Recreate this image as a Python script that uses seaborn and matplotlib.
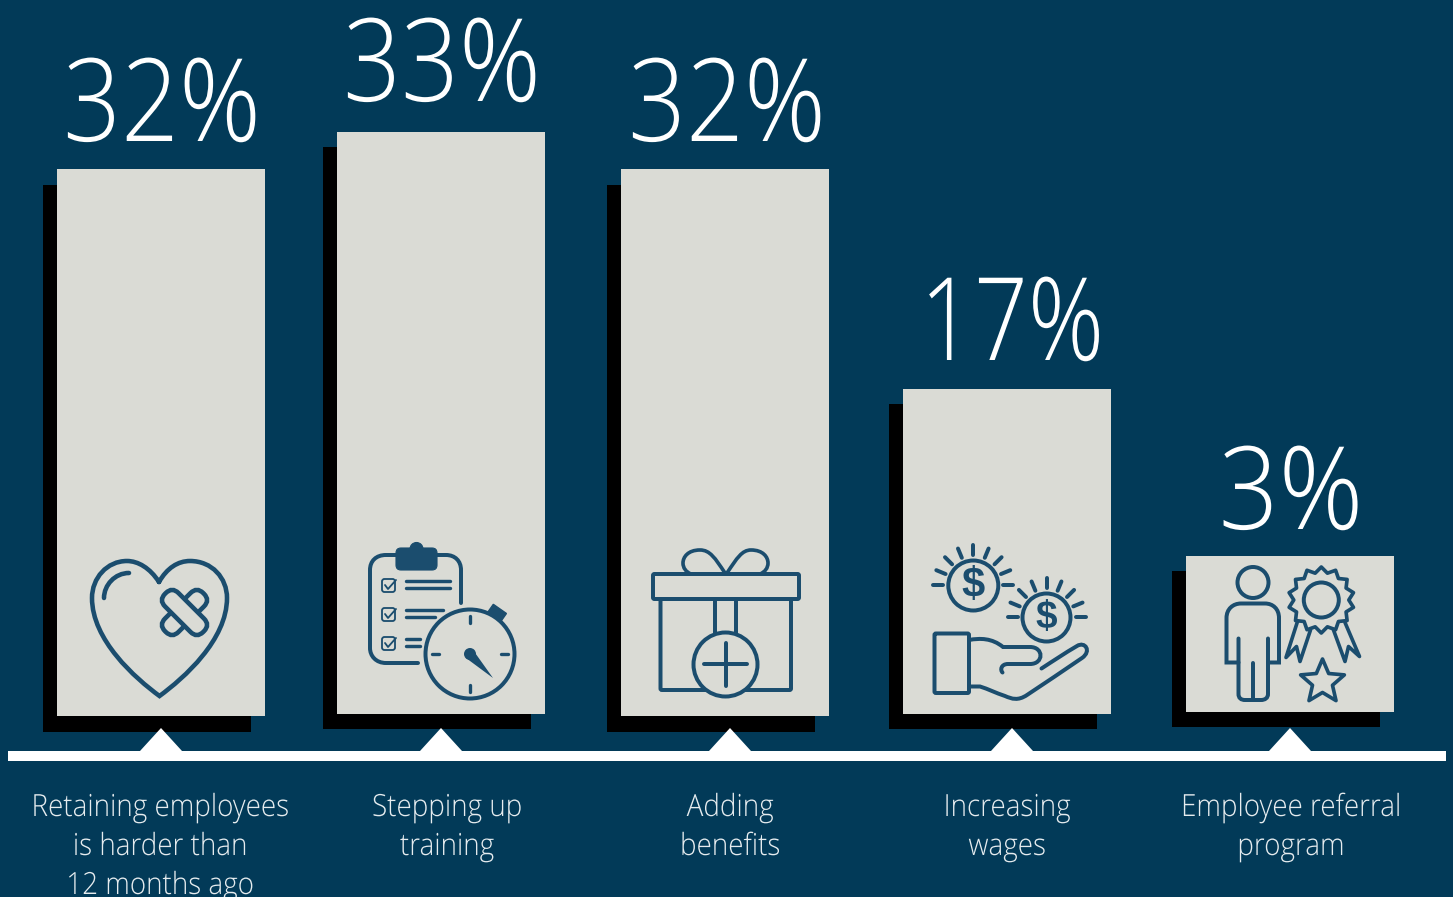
import matplotlib
matplotlib.use('Agg')
import matplotlib.pyplot as plt
import matplotlib.patheffects as pe
import numpy as np
import seaborn as sns
from matplotlib.path import Path
from matplotlib.patches import Circle, FancyBboxPatch, PathPatch, Polygon, Rectangle
from matplotlib.transforms import Affine2D

categories = ['Retaining employees\nis harder than\n12 months ago', 'Stepping up\ntraining',
              'Adding\nbenefits', 'Increasing\nwages', 'Employee referral\nprogram']
pct_values = [32, 33, 32, 17, 3]
bar_heights = [547, 582, 547, 325, 156]

# Layout, in image pixels
bar_centers = [161, 441, 725, 1007, 1290]
bar_bottoms = [716, 714, 716, 714, 712]
shadow_dy = [16, 15, 16, 15, 15]
pointer_x = [161, 441, 730, 1012, 1290]
pct_x = [162, 442, 727, 1012, 1291]
pct_gap = [27, 30, 27, 28, 26]
pct_squeeze = [0.88, 0.88, 0.88, 0.82, 0.91]
text_x = [160, 447, 730, 1007, 1291]

BG = '#023A58'
BAR = '#DADBD5'
ICON = '#1B4D6E'
LW = 0.82  # px to points for the icon strokes, a bit heavier than 0.72

sns.set_theme(style='white')
plt.rcParams['font.family'] = ['Open Sans', 'DejaVu Sans']

fig = plt.figure(figsize=(14.53, 8.97), dpi=100, facecolor=BG)
ax = fig.add_axes([0, 0, 1, 1])


class Squeeze(pe.AbstractPathEffect):
    # Open Sans runs wider than the font in the picture, so narrow the glyphs around the text centre
    def __init__(self, cx, sx):
        super().__init__()
        self.cx = cx
        self.sx = sx

    def draw_path(self, renderer, gc, tpath, affine, rgbFace=None):
        squeeze = Affine2D().translate(-self.cx, 0).scale(self.sx, 1).translate(self.cx, 0)
        renderer.draw_path(gc, tpath, affine + squeeze, rgbFace)


def line(pts, lw=3.0, **kw):
    xs, ys = zip(*pts)
    ax.plot(xs, ys, color=ICON, lw=lw * LW, solid_capstyle='round', solid_joinstyle='round', zorder=5, **kw)


def curve(verts, lw=3.0, fill='none'):
    # first vertex is a move, the rest come in threes of cubic bezier
    codes = [Path.MOVETO] + [Path.CURVE4] * (len(verts) - 1)
    ax.add_patch(PathPatch(Path(verts, codes), fc=fill, ec=ICON, lw=lw * LW, capstyle='round', zorder=5))


def ring(x, y, r, lw=3.0, fill='none', z=5):
    ax.add_patch(Circle((x, y), r, fc=fill, ec=ICON, lw=lw * LW, zorder=z))


def box(x0, y0, x1, y1, lw=3.0, fill='none', rad=1.5):
    ax.add_patch(FancyBboxPatch((x0, y0), x1 - x0, y1 - y0, boxstyle=f'round,pad=0,rounding_size={rad}',
                                fc=fill, ec=ICON, lw=lw * LW, zorder=5))


def draw_heart():
    curve([(159, 582), (150, 568), (138, 561), (127, 561), (107, 561), (92, 578), (92, 598),
           (92, 640), (135, 678), (159.5, 696), (184, 678), (227, 640), (227, 598),
           (227, 578), (212, 561), (190, 561), (178, 561), (167, 568), (159, 582)], lw=4)
    curve([(104, 598), (104, 585), (115, 573), (129, 573)], lw=4)
    for angle in (-45, 45):
        ax.add_patch(FancyBboxPatch((157.5, 603), 54, 19, boxstyle='round,pad=0,rounding_size=9', fc=BAR, ec=ICON,
                                    lw=4 * LW, zorder=5,
                                    transform=Affine2D().rotate_deg_around(184.5, 612.5, angle) + ax.transData))


def draw_clipboard():
    curve([(418, 663), (402, 663), (394, 663), (386, 663), (376, 663), (370, 656), (370, 648),
           (370, 620), (370, 600), (370, 570), (370, 561), (376, 555), (386, 555),
           (410, 555), (430, 555), (446, 555), (455, 555), (461, 561), (461, 570),
           (461, 580), (461, 592), (461, 603)], lw=3.5)
    box(396, 548, 437, 570, lw=1, fill=ICON, rad=5)
    ring(416.5, 549, 6.5, lw=1, fill=ICON)
    rows = [(579, 450, 450), (608, 443, 435), (637, 420, 420)]
    for top, x1, x2 in rows:
        box(382, top, 395, top + 13, lw=1.6, rad=2.5)
        line([(385, top + 6), (388, top + 10), (396, top + 1)], lw=1.6)
        line([(406, top + 2.5), (x1, top + 2.5)], lw=3)
        line([(406, top + 9), (x2, top + 9)], lw=3)
    # stopwatch
    ring(470, 654, 44.5, lw=3.5, fill=BAR, z=6)
    crown = Rectangle((489, 608), 16, 10, fc=ICON, ec=ICON, lw=1, zorder=5,
                      transform=Affine2D().rotate_deg_around(497, 613, 35) + ax.transData)
    ax.add_patch(crown)
    for dx, dy in [(0, -1), (1, 0), (0, 1), (-1, 0)]:
        ax.plot([470 + dx * 31, 470 + dx * 38], [654 + dy * 31, 654 + dy * 38], color=ICON, lw=2.4,
                solid_capstyle='round', zorder=7)
    ax.add_patch(Circle((470, 654), 6, fc=ICON, ec='none', zorder=7))
    ax.add_patch(Polygon([(466, 658), (473, 650), (493, 678)], fc=ICON, ec='none', zorder=7))


def draw_gift():
    curve([(725, 573), (715, 558), (710, 550), (700, 550), (688, 550), (683, 557), (683, 563),
           (683, 568), (686, 572), (691, 574)], lw=3.2)
    curve([(727, 573), (737, 558), (742, 550), (751, 550), (763, 550), (768, 557), (768, 563),
           (768, 568), (765, 572), (760, 574)], lw=3.2)
    box(653, 574, 799, 599, lw=3.5, fill=BAR)
    box(660.5, 599, 791, 690, lw=3.5)
    line([(715, 599), (715, 634)], lw=3.5)
    line([(736, 599), (736, 634)], lw=3.5)
    ax.add_patch(Circle((725.5, 664.5), 32, fc=BAR, ec=ICON, lw=3.5 * LW, zorder=6))
    for pts in ([(704, 664.5), (747, 664.5)], [(725.5, 643), (725.5, 686)]):
        xs, ys = zip(*pts)
        ax.plot(xs, ys, color=ICON, lw=3.5 * LW, solid_capstyle='round', zorder=7)


def draw_coin(x, y, r, r1, r2, size):
    ring(x, y, r, lw=3.5)
    for a in np.linspace(180, 360, 9):
        c, s = np.cos(np.radians(a)), np.sin(np.radians(a))
        line([(x + r1 * c, y + r1 * s), (x + r2 * c, y + r2 * s)], lw=3.5)
    ax.text(x, y + 0.5, '$', color=ICON, fontsize=size, ha='center', va='center', family='Liberation Sans',
            weight='bold', zorder=6)


def draw_hand():
    draw_coin(973.3, 585.5, 25, 30, 40, 30)
    draw_coin(1046.5, 617.5, 24, 29, 39, 28)
    box(934.5, 633.5, 969, 693, lw=3.5)
    curve([(969, 640), (980, 638), (992, 638), (1003, 647), (1012, 647), (1021, 647), (1030, 647),
           (1044, 647), (1044, 664), (1030, 664), (1022, 664), (1016, 664), (1008, 664),
           (1001, 664), (1000, 670), (1002.5, 672.5)], lw=3.5)
    curve([(1041.5, 668.5), (1053, 661), (1065, 653), (1077, 646), (1085, 641), (1092, 651), (1082, 658),
           (1063, 671), (1045, 683), (1027, 695), (1018, 701), (1012, 699), (1005, 696),
           (996, 693), (988, 689), (980, 686.5), (976, 686.5), (973, 686.5), (969, 686.5)], lw=3.5)


def draw_person():
    ring(1253, 582.5, 15.5, lw=3.5)
    curve([(1238.5, 662.5), (1234, 662.5), (1230, 662.5), (1226.5, 662.5), (1226.5, 648), (1226.5, 632), (1226.5, 618),
           (1226.5, 609), (1233, 603.5), (1241, 603.5), (1249, 603.5), (1257, 603.5), (1265, 603.5),
           (1273, 603.5), (1279, 609), (1279, 618), (1279, 632), (1279, 648), (1279, 662.5),
           (1275, 662.5), (1271, 662.5), (1268, 662.5)], lw=3.5)
    curve([(1238.5, 638.5), (1238.5, 658), (1238.5, 676), (1238.5, 694), (1238.5, 698), (1241, 700), (1245, 700),
           (1250, 700), (1256, 700), (1261, 700), (1265, 700), (1268, 698), (1268, 694),
           (1268, 676), (1268, 658), (1268, 638.5)], lw=3.5)
    line([(1253, 663.5), (1253, 699)], lw=3.5)


def draw_badge():
    n = 14
    angles = np.radians(np.arange(2 * n) * 180 / n - 90)
    radii = np.where(np.arange(2 * n) % 2 == 0, 33, 27.5)
    ax.add_patch(Polygon(np.column_stack([1321.3 + radii * np.cos(angles), 600 + radii * np.sin(angles)]),
                         fc='none', ec=ICON, lw=3.2 * LW, joinstyle='round', zorder=5))
    ring(1321.3, 600, 17.5, lw=3.5)
    line([(1297.5, 621.5), (1286, 657.5), (1296.5, 646.5), (1300, 661.5), (1310.5, 630)], lw=3.2)
    line([(1333.5, 630), (1345, 661.5), (1348.5, 646.5), (1359.5, 656.5), (1345, 622.5)], lw=3.2)
    a = np.radians(np.arange(10) * 36 - 90)
    r = np.where(np.arange(10) % 2 == 0, 23, 10.5)
    ax.add_patch(Polygon(np.column_stack([1322.5 + r * np.cos(a), 682 + r * np.sin(a)]),
                         fc='none', ec=ICON, lw=3.2 * LW, joinstyle='round', zorder=5))


# shadow first, then the light bars on top
for cx, h, b, dy in zip(bar_centers, bar_heights, bar_bottoms, shadow_dy):
    sns.barplot(x=[cx - 14], y=[h], native_scale=True, width=208, bottom=b + dy - h, color='black',
                saturation=1, errorbar=None, linewidth=0, ax=ax, zorder=2)
    sns.barplot(x=[cx], y=[h], native_scale=True, width=208, bottom=b - h, color=BAR,
                saturation=1, errorbar=None, linewidth=0, ax=ax, zorder=3)

draw_heart()
draw_clipboard()
draw_gift()
draw_hand()
draw_person()
draw_badge()

# baseline with the little pointers
ax.add_patch(Rectangle((8, 751), 1438, 10, fc='white', ec='none', zorder=4))
for px in pointer_x:
    ax.add_patch(Polygon([(px - 21, 751), (px, 728), (px + 21, 751)], fc='white', ec='none', zorder=4))

# percentages sit just over the bars
for x, v, h, b, gap, sq in zip(pct_x, pct_values, bar_heights, bar_bottoms, pct_gap, pct_squeeze):
    ax.text(x, b - h - gap - 1, f'{v}%', color='white', fontsize=83, ha='center', va='baseline', weight='light',
            zorder=6, path_effects=[Squeeze(x, sq)])

for x, cat in zip(text_x, categories):
    for i, row in enumerate(cat.split('\n')):
        ax.text(x, 816 + i * 39, row, color='#E6ECEF', fontsize=22, ha='center', va='baseline', weight='light',
                zorder=6, path_effects=[Squeeze(x, 0.91)])

ax.set_xlim(0, 1453)
ax.set_ylim(897, 0)
ax.axis('off')

fig.savefig('out.png', dpi=100, facecolor=BG)
